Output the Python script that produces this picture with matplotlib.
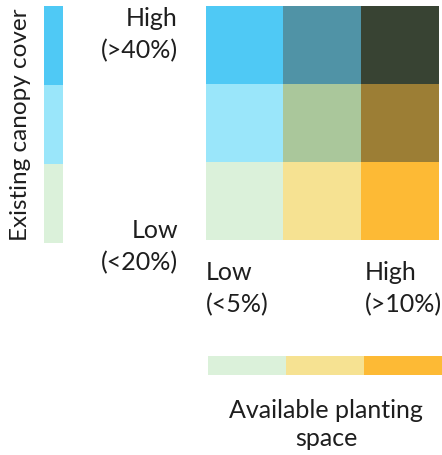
import matplotlib
matplotlib.use("Agg")
import matplotlib.pyplot as plt
import numpy as np
from matplotlib.colors import to_rgb

# bivariate classes: rows = canopy cover (high -> low), cols = planting space (low -> high)
canopy_levels = ["High", "Medium", "Low"]
planting_levels = ["Low", "Medium", "High"]
grid_colors = [
    ["#4fc9f5", "#5093a6", "#384333"],
    ["#9ae6fa", "#aac79b", "#9c7e35"],
    ["#dbf1da", "#f6e292", "#fdba35"],
]
canopy_colors = ["#4fc9f5", "#9ae6fa", "#dbf1da"]
planting_colors = ["#dbf1da", "#f6e292", "#fdba35"]

canopy_title = "Existing canopy cover"
canopy_high = ["High", "(>40%)"]
canopy_low = ["Low", "(<20%)"]
planting_title = ["Available planting", "space"]
planting_low = ["Low", "(<5%)"]
planting_high = ["High", "(>10%)"]

W, H = 442, 455
fig = plt.figure(figsize=(W / 100, H / 100), dpi=100)
ax = fig.add_axes([0, 0, 1, 1])
ax.set_xlim(0, W)
ax.set_ylim(H, 0)
ax.axis("off")

text_kw = dict(fontsize=18, color="#1e1e1e", family=["Lato", "DejaVu Sans"])


def rgb_array(colors):
    return np.array([[to_rgb(c) for c in row] for row in colors])


# main 3x3 grid
ax.imshow(rgb_array(grid_colors), extent=(206, 439, 240, 6), interpolation="nearest", aspect="auto")
# vertical canopy bar
ax.imshow(rgb_array([[c] for c in canopy_colors]), extent=(44, 63, 243, 6),
          interpolation="nearest", aspect="auto")
# horizontal planting bar
ax.imshow(rgb_array([planting_colors]), extent=(208, 442, 375, 356),
          interpolation="nearest", aspect="auto")

ax.text(21, 125, canopy_title, rotation=90, ha="center", va="center",
        **{**text_kw, "fontsize": 17.5})

line_gap = 33
for i, s in enumerate(canopy_high):
    ax.text(178, 18 + i * line_gap, s, ha="right", va="center", **text_kw)
for i, s in enumerate(canopy_low):
    ax.text(178, 230 + i * line_gap, s, ha="right", va="center", **text_kw)
for i, s in enumerate(planting_low):
    ax.text(206, 272 + i * line_gap, s, ha="left", va="center", **text_kw)
for i, s in enumerate(planting_high):
    ax.text(365, 272 + i * line_gap, s, ha="left", va="center", **text_kw)
for i, s in enumerate(planting_title):
    ax.text(326, 411 + i * 27, s, ha="center", va="center", **text_kw)

fig.savefig("out.png", dpi=100, facecolor="white")
